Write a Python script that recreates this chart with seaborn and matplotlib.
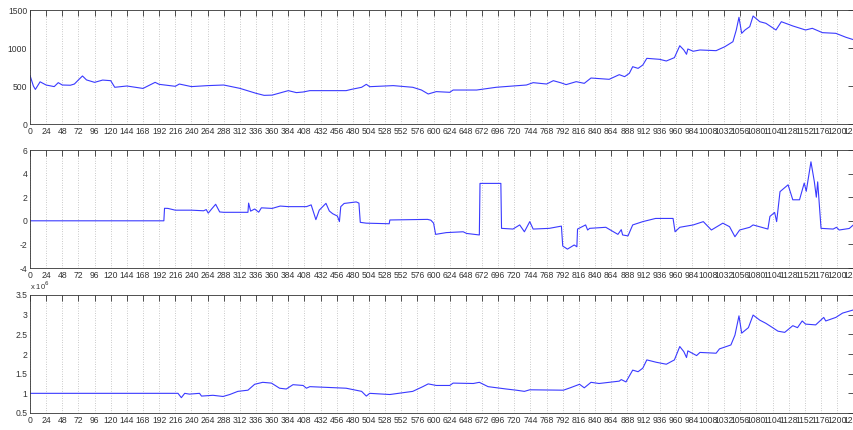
import matplotlib
matplotlib.use("Agg")
import matplotlib.pyplot as plt
import numpy as np
import pandas as pd
import seaborn as sns

sns.set_theme(style="white")
plt.rcParams["font.family"] = ["Liberation Sans", "DejaVu Sans"]

# =========================
# Data
# =========================
price_t = [0, 5, 8, 15, 24, 36, 42, 48, 60, 66, 72, 78, 84, 96, 108, 120, 126, 144,
           168, 186, 192, 216, 222, 240, 264, 288, 312, 336, 348, 360, 384, 396, 406,
           416, 470, 478, 493, 500, 505, 540, 569, 582, 592, 604, 624, 629, 664, 693,
           718, 738, 748, 768, 778, 790, 797, 812, 824, 834, 861, 876, 884, 891, 896,
           904, 911, 917, 936, 946, 958, 966, 972, 976, 978, 986, 996, 1020, 1033,
           1045, 1050, 1054, 1058, 1063, 1070, 1075, 1085, 1094, 1109, 1117, 1134,
           1153, 1163, 1178, 1198, 1213, 1224]
price = [640, 500, 455, 555, 513, 492, 544, 513, 510, 526, 580, 632, 580, 548, 578,
         570, 483, 500, 468, 548, 522, 496, 526, 492, 505, 513, 469, 404, 377, 380,
         439, 413, 421, 439, 439, 456, 483, 522, 491, 505, 483, 447, 395, 426, 417,
         447, 447, 483, 500, 513, 544, 526, 570, 540, 518, 557, 535, 605, 588, 649,
         623, 667, 754, 732, 776, 864, 851, 829, 873, 1030, 974, 917, 987, 957, 974,
         965, 1017, 1083, 1237, 1404, 1193, 1237, 1281, 1421, 1346, 1325, 1237,
         1346, 1290, 1237, 1259, 1202, 1193, 1141, 1110]

signal_t = [0, 199, 200, 205, 216, 240, 258, 262, 265, 270, 276, 282, 288, 324, 325,
            328, 334, 340, 344, 360, 372, 384, 411, 418, 425, 430, 440, 445, 450, 457,
            460, 462, 467, 485, 489, 491, 500, 534, 535, 591, 596, 600, 603, 619, 644,
            649, 668, 669, 700, 701, 718, 728, 735, 743, 748, 772, 790, 792, 799, 809,
            813, 814, 826, 829, 832, 856, 874, 879, 881, 889, 896, 911, 930, 956, 959,
            966, 986, 1001, 1013, 1030, 1040, 1048, 1055, 1070, 1075, 1097, 1100, 1107,
            1110, 1115, 1127, 1134, 1144, 1151, 1154, 1161, 1166, 1169, 1171, 1176,
            1194, 1199, 1203, 1218, 1224]
signal = [0, 0, 1.06, 1.05, 0.9, 0.9, 0.85, 0.95, 0.65, 1.0, 1.4, 0.75, 0.72, 0.72,
          1.5, 0.82, 1.0, 0.73, 1.1, 1.05, 1.25, 1.2, 1.2, 1.35, 0.1, 0.9, 1.48, 0.83,
          0.6, 0.4, -0.07, 1.2, 1.47, 1.6, 1.5, -0.13, -0.2, -0.25, 0.07, 0.12, 0.05,
          -0.2, -1.15, -1.0, -0.93, -1.07, -1.2, 3.17, 3.17, -0.64, -0.7, -0.35, -0.93,
          -0.07, -0.7, -0.64, -0.45, -2.14, -2.4, -2.05, -2.2, -0.7, -0.35, -0.78,
          -0.64, -0.55, -1.15, -0.75, -1.2, -1.28, -0.35, -0.07, 0.2, 0.2, -0.93,
          -0.55, -0.35, -0.07, -0.78, -0.2, -0.5, -1.35, -0.78, -0.55, -0.35, -0.7,
          0.37, 0.71, -0.07, 2.47, 3.05, 1.78, 1.78, 3.2, 2.5, 5.0, 3.33, 2.0, 3.3,
          -0.64, -0.7, -0.55, -0.78, -0.65, -0.35]

equity_t = [0, 220, 225, 230, 237, 252, 255, 272, 287, 297, 309, 324, 334, 346, 359,
            371, 381, 391, 406, 411, 416, 470, 493, 500, 505, 535, 569, 584, 592, 604,
            624, 629, 659, 668, 681, 708, 723, 735, 743, 793, 803, 817, 824, 834, 846,
            876, 879, 886, 896, 904, 911, 917, 931, 946, 958, 966, 972, 976, 978, 991,
            996, 1020, 1025, 1042, 1048, 1054, 1058, 1068, 1075, 1085, 1094, 1104, 1112,
            1122, 1134, 1141, 1148, 1153, 1168, 1180, 1183, 1198, 1208, 1224]
equity_mln = [1.0, 1.0, 0.89, 1.0, 0.98, 1.0, 0.93, 0.95, 0.92, 0.97, 1.05, 1.08, 1.23,
              1.28, 1.26, 1.13, 1.11, 1.22, 1.2, 1.13, 1.17, 1.13, 1.05, 0.93, 1.0, 0.97,
              1.05, 1.17, 1.24, 1.2, 1.2, 1.26, 1.25, 1.28, 1.17, 1.11, 1.08, 1.05, 1.09,
              1.08, 1.14, 1.23, 1.14, 1.28, 1.25, 1.31, 1.35, 1.29, 1.59, 1.55, 1.64,
              1.85, 1.79, 1.74, 1.85, 2.19, 2.06, 1.91, 2.08, 1.96, 2.04, 2.02, 2.13,
              2.23, 2.48, 2.97, 2.53, 2.67, 2.99, 2.86, 2.78, 2.67, 2.58, 2.55, 2.72,
              2.67, 2.84, 2.76, 2.74, 2.93, 2.84, 2.93, 3.04, 3.12]

panels = [
    (price_t, price, (0, 1500), [0, 500, 1000, 1500]),
    (signal_t, signal, (-4, 6), [-4, -2, 0, 2, 4, 6]),
    (equity_t, equity_mln, (0.5, 3.5), [0.5, 1, 1.5, 2, 2.5, 3, 3.5]),
]

# ========================
# PLOT
# ========================
W, H = 854, 430
fig = plt.figure(figsize=(W / 100, H / 100), dpi=100)
boxes = [(10, 124), (150, 268), (295, 413)]  # top/bottom in pixels
xticks = np.arange(0, 1225, 24)

for (t, v, ylim, yticks), (top, bot) in zip(panels, boxes):
    ax = fig.add_axes([30 / W, (H - bot) / H, 824 / W, (bot - top) / H])
    df = pd.DataFrame({"t": t, "v": v})
    sns.lineplot(data=df, x="t", y="v", ax=ax, color="#3a3aff", lw=0.8,
                 estimator=None, sort=False)
    ax.set_xlim(0, 1225)
    ax.set_ylim(*ylim)
    ax.set_xticks(xticks)
    ax.set_yticks(yticks)
    ax.set_yticklabels([f"{y:g}" for y in yticks])
    ax.set_xlabel("")
    ax.set_ylabel("")
    ax.grid(axis="x", color="#999999", ls=(0, (1, 2.5)), lw=0.5)
    ax.tick_params(direction="in", length=4, width=0.6, top=True, right=True,
                   labelsize=6.2, colors="#333333", pad=2)
    for s in ax.spines.values():
        s.set_color("#333333")
        s.set_linewidth(0.6)

fig.text(30 / W, (H - 292) / H, r"x 10$^6$", fontsize=5.5, color="#333333",
         ha="left", va="bottom")

plt.savefig("out.png", dpi=100)
